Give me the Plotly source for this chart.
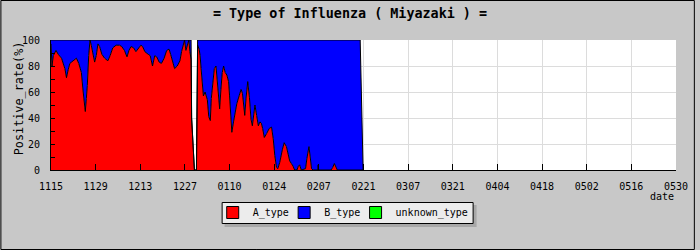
import plotly.graph_objects as go

# ---- data (day offset from 11/15, positive rate %) ----
days = [0.0, 0.31, 0.72, 1.56, 2.27, 3.30, 4.36, 4.85, 5.38, 5.91,
        6.94, 7.96, 8.71, 9.52, 10.05, 10.36, 10.76, 11.08, 11.39, 11.82,
        12.23, 12.63, 13.16, 13.69, 14.19, 14.72, 15.24, 15.96, 16.80, 17.83,
        18.54, 19.38, 20.41, 21.47, 22.18, 23.02, 23.83, 24.45, 25.08, 25.92,
        26.63, 27.38, 28.19, 28.72, 29.43, 30.49, 31.11, 31.83, 32.54, 33.16,
        33.91, 34.63, 35.47, 36.28, 37.02, 37.52, 38.05, 38.76, 39.60, 40.44,
        40.94, 41.47, 41.88, 42.31, 42.72, 43.24, 43.56, 43.93, 44.10, 44.98, 45.61,
        45.98, 46.45, 46.76, 47.07, 47.48, 47.79, 48.32, 49.03, 49.47, 49.96,
        50.27, 50.80, 51.21, 51.74, 52.05, 52.58, 52.89, 53.29, 53.70, 54.13,
        54.63, 55.16, 55.69, 56.00, 56.40, 56.71, 57.24, 57.74, 58.27, 58.99,
        59.61, 60.04, 60.36, 60.76, 61.16, 61.69, 62.22, 62.72, 63.15, 63.56,
        63.96, 64.49, 65.02, 65.52, 65.96, 66.36, 66.89, 67.61, 68.45, 69.16,
        69.69, 70.19, 70.72, 71.13, 71.75, 72.59, 73.12, 73.83, 74.36, 74.85,
        75.38, 75.91, 76.41, 77.16, 77.56, 77.96, 78.49, 79.83, 80.26, 80.58,
        80.89, 81.29, 81.70, 82.23, 83.63, 83.78, 83.94, 87.83, 88.36, 88.86,
        89.38, 89.79, 96.96, 97.88]

a_type = [97, 80, 88, 92, 89, 86, 78, 71, 77, 82,
          84, 86, 82, 75, 61, 52, 45, 55, 65, 88,
          100, 96, 89, 83, 88, 97, 95, 89, 86, 84,
          88, 94, 96, 96, 95, 92, 87, 92, 95, 94,
          91, 93, 96, 95, 91, 89, 88, 80, 88, 87,
          83, 82, 86, 92, 93, 89, 84, 78, 80, 84,
          91, 97, 100, 92, 96, 100, 91, 85, 40, 0, 0,
          96, 93, 88, 78, 65, 57, 60, 54, 41, 38,
          55, 70, 78, 80, 70, 60, 47, 62, 75, 80,
          75, 73, 68, 57, 34, 29, 37, 45, 51, 57,
          62, 59, 50, 42, 55, 68, 56, 39, 34, 42,
          50, 42, 34, 37, 36, 32, 25, 28, 32, 33,
          24, 11, 2, 1, 6, 16, 21, 18, 12, 7,
          5, 3, 0, 0, 3, 4, 0, 1, 9, 15,
          18, 10, 1, 0, 0, 4, 0, 0, 2, 5,
          2, 0, 0, 0]

b_type = [3, 20, 12, 8, 11, 14, 22, 29, 23, 18,
          16, 14, 18, 25, 39, 48, 55, 45, 35, 12,
          0, 4, 11, 17, 12, 3, 5, 11, 14, 16,
          12, 6, 4, 4, 5, 8, 13, 8, 5, 6,
          9, 7, 4, 5, 9, 11, 12, 20, 12, 13,
          17, 18, 14, 8, 7, 11, 16, 22, 20, 16,
          9, 3, 0, 8, 4, 0, 9, 15, 0, 0, 0,
          4, 7, 12, 22, 35, 43, 40, 46, 59, 62,
          45, 30, 22, 20, 30, 40, 53, 38, 25, 20,
          25, 27, 32, 43, 66, 71, 63, 55, 49, 43,
          38, 41, 50, 58, 45, 32, 44, 61, 66, 58,
          50, 58, 66, 63, 64, 68, 75, 72, 68, 67,
          76, 89, 98, 99, 94, 84, 79, 82, 88, 93,
          95, 97, 100, 100, 97, 96, 100, 99, 91, 85,
          82, 90, 99, 100, 100, 96, 100, 100, 98, 95,
          98, 100, 100, 0]

tick_days = [0, 14, 28, 42, 56, 70, 84, 98, 112, 126, 140, 154, 168, 182, 196]
tick_labels = ["1115", "1129", "1213", "1227", "0110", "0124", "0207", "0221",
               "0307", "0321", "0404", "0418", "0502", "0516", "0530"]
y_ticks = [0, 10, 20, 30, 40, 50, 60, 70, 80, 90, 100]
y_labels = ["0", "", "20", "", "40", "", "60", "", "80", "", "100"]
series_names = ["A_type", "B_type", "unknown_type"]
series_colors = ["#ff0000", "#0000ff", "#00ff00"]

# ---- layout constants ----
W, H = 700, 250
ML, MR, MT, MB = 51, 19, 40, 80
PW, PH = W - ML - MR, H - MT - MB
FONT = "DejaVu Sans Mono"


def px_x(p):
    return (p - ML) / PW


def px_y(p):
    return (H - MB - p) / PH


fig = go.Figure()

fig.add_trace(go.Scatter(x=days, y=a_type, stackgroup="one", mode="lines",
                         line=dict(color="black", width=1), fillcolor=series_colors[0],
                         name=series_names[0], showlegend=False, hoverinfo="skip"))
fig.add_trace(go.Scatter(x=days, y=b_type, stackgroup="one", mode="lines",
                         line=dict(color="black", width=1), fillcolor=series_colors[1],
                         name=series_names[1], showlegend=False, hoverinfo="skip"))

legend_ids = ["legend", "legend2", "legend3"]
for nm, col, lg in zip(series_names, series_colors, legend_ids):
    fig.add_trace(go.Bar(x=[None], y=[None], name=nm, xaxis="x2", yaxis="y2", legend=lg,
                         marker=dict(color=col, line=dict(color="black", width=1))))

# legend frame (box drawn as shapes, entries from plotly legends)
box_l, box_t, box_w, box_h = 223, 202, 254, 22
entry_step = 72
legend_layout = {}
for i, lg in enumerate(legend_ids):
    legend_layout[lg] = dict(orientation="h", x=px_x(box_l - 9 + i * entry_step),
                             y=px_y(box_t - 4), xanchor="left", yanchor="top",
                             bgcolor="rgba(0,0,0,0)", borderwidth=0,
                             font=dict(family=FONT, size=10, color="black"))

fig.update_layout(
    width=W, height=H,
    margin=dict(l=ML, r=MR, t=MT, b=MB, pad=0),
    paper_bgcolor="#c8c8c8", plot_bgcolor="white",
    font=dict(family=FONT, size=10, color="black"),
    title=dict(text="= Type of Influenza ( Miyazaki ) =", x=0.5, xref="container",
               xanchor="center", y=1 - 13 / H, yanchor="middle", yref="container",
               font=dict(family=FONT, size=13.4, color="black", weight="bold")),
    showlegend=True,
    **legend_layout,
    xaxis=dict(range=[0, 196], tickmode="array", tickvals=tick_days[1:-1],
               showticklabels=False, ticks="", showgrid=True, gridcolor="#dcdcdc",
               gridwidth=1, zeroline=False, showline=False, fixedrange=True),
    yaxis=dict(range=[0, 100], tickmode="array", tickvals=[20, 40, 60, 80],
               showticklabels=False, ticks="", showgrid=True, gridcolor="#dcdcdc",
               gridwidth=1, zeroline=False, showline=False, fixedrange=True),
    xaxis2=dict(overlaying="x", anchor="y", range=[0, 196], tickmode="array",
                tickvals=tick_days, ticktext=tick_labels, ticks="inside", ticklen=6,
                tickcolor="black", tickwidth=1, showline=True, linecolor="black",
                linewidth=1, showgrid=False, zeroline=False, ticklabelstandoff=7,
                tickfont=dict(family=FONT, size=10, color="black"), fixedrange=True),
    yaxis2=dict(overlaying="y", anchor="x", side="left", range=[0, 100], tickmode="array",
                tickvals=y_ticks, ticktext=y_labels, ticks="inside", ticklen=4,
                tickcolor="black", tickwidth=1, showline=True, linecolor="black",
                linewidth=1, showgrid=False, zeroline=False, ticklabelstandoff=8,
                tickfont=dict(family=FONT, size=10, color="black"), fixedrange=True),
    annotations=[
        dict(text="date", xref="paper", yref="paper", x=1, y=px_y(196),
             xanchor="right", yanchor="middle", showarrow=False,
             font=dict(family=FONT, size=10, color="black")),
        dict(text="Positive_rate(%)", xref="paper", yref="paper", x=px_x(19),
             y=px_y(98), xanchor="center", yanchor="middle", textangle=-90,
             showarrow=False, font=dict(family=FONT, size=11.8, color="black")),
    ],
    shapes=[
        dict(type="rect", xref="paper", yref="paper",
             x0=px_x(box_l + 3), x1=px_x(box_l + 3 + box_w),
             y0=px_y(box_t + 3 + box_h), y1=px_y(box_t + 3),
             fillcolor="#a8a8a8", line=dict(width=0), layer="above"),
        dict(type="rect", xref="paper", yref="paper",
             x0=px_x(box_l + 0.5), x1=px_x(box_l + box_w - 0.5),
             y0=px_y(box_t + box_h - 0.5), y1=px_y(box_t + 0.5),
             fillcolor="#ececec", line=dict(color="black", width=1), layer="above"),
        dict(type="rect", xref="paper", yref="paper",
             x0=px_x(0.5), x1=px_x(W - 0.5), y0=px_y(H - 0.5), y1=px_y(0.5),
             line=dict(color="black", width=1), fillcolor="rgba(0,0,0,0)", layer="above"),
    ],
)

fig.write_html("out.html")
